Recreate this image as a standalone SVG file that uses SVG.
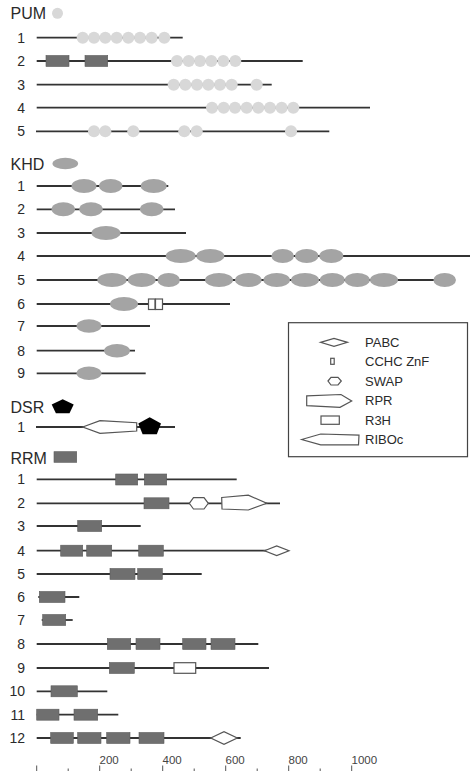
<svg xmlns="http://www.w3.org/2000/svg" width="470" height="771" viewBox="0 0 470 771">
<style>
text{font-family:"Liberation Sans",Arial,sans-serif;fill:#2a2a2a}
.h{font-size:16px}
.n{font-size:14px;text-anchor:end}
.lg{font-size:13px}
.ax{font-size:11.5px;fill:#444}
.bb{stroke:#333;stroke-width:1.8;fill:none}
.pum{fill:#d8d8d8}
.khd{fill:#a4a4a4}
.rrm{fill:#6f6f6f;stroke:#5a5a5a;stroke-width:0.6}
.ol{fill:#fff;stroke:#555;stroke-width:1.2}
.dsr{fill:#000}
.tk{stroke:#555;stroke-width:1}
</style>
<rect width="470" height="771" fill="#fff"/>

<!-- Section headers -->
<g id="hdr-pum"><text class="h" x="10.5" y="19">PUM</text><circle class="pum" cx="57.5" cy="13.3" r="5.5"/></g>
<g id="hdr-khd"><text class="h" x="10.5" y="170">KHD</text><ellipse class="khd" cx="65.3" cy="163.5" rx="12.8" ry="5.8"/></g>
<g id="hdr-dsr"><text class="h" x="10.5" y="412.5">DSR</text><polygon class="dsr" points="62.7,399.3 73.7,404.6 69.5,413.3 55.9,413.3 51.7,404.6"/></g>
<g id="hdr-rrm"><text class="h" x="10.5" y="463.5">RRM</text><rect class="rrm" x="54" y="451.7" width="22.7" height="10.6"/></g>

<!-- Backbones (connectors) -->
<g id="connectors">
<line class="bb" x1="36.7" y1="37.7" x2="182.7" y2="37.7"/>
<line class="bb" x1="36.7" y1="61" x2="302.7" y2="61"/>
<line class="bb" x1="36.7" y1="84.7" x2="271.7" y2="84.7"/>
<line class="bb" x1="36.7" y1="107.7" x2="370" y2="107.7"/>
<line class="bb" x1="36" y1="131.3" x2="329.3" y2="131.3"/>
<line class="bb" x1="36.7" y1="186" x2="168.3" y2="186"/>
<line class="bb" x1="36.7" y1="209.3" x2="175" y2="209.3"/>
<line class="bb" x1="36.7" y1="233" x2="186" y2="233"/>
<line class="bb" x1="36.7" y1="256" x2="470" y2="256"/>
<line class="bb" x1="36.7" y1="280" x2="450" y2="280"/>
<line class="bb" x1="36.7" y1="304" x2="230" y2="304"/>
<line class="bb" x1="36.7" y1="326" x2="150" y2="326"/>
<line class="bb" x1="36.7" y1="350.7" x2="135" y2="350.7"/>
<line class="bb" x1="36.7" y1="373.3" x2="145.7" y2="373.3"/>
<line class="bb" x1="36" y1="427" x2="175" y2="427"/>
<line class="bb" x1="36.7" y1="479.3" x2="236.7" y2="479.3"/>
<line class="bb" x1="36.7" y1="503.3" x2="280" y2="503.3"/>
<line class="bb" x1="36.7" y1="526" x2="140.7" y2="526"/>
<line class="bb" x1="36.7" y1="550.7" x2="286" y2="550.7"/>
<line class="bb" x1="36.7" y1="574" x2="201.7" y2="574"/>
<line class="bb" x1="38.3" y1="597" x2="79.3" y2="597"/>
<line class="bb" x1="41.7" y1="620" x2="72.7" y2="620"/>
<line class="bb" x1="36.7" y1="644" x2="258.3" y2="644"/>
<line class="bb" x1="36.7" y1="668" x2="269" y2="668"/>
<line class="bb" x1="36.7" y1="691.3" x2="107.3" y2="691.3"/>
<line class="bb" x1="36.7" y1="714.7" x2="118.3" y2="714.7"/>
<line class="bb" x1="36.7" y1="738" x2="240.7" y2="738"/>
</g>

<!-- PUM -->
<g id="pum-1"><text class="n" x="25" y="42.7">1</text>
<circle class="pum" cx="82.7" cy="37.7" r="6"/><circle class="pum" cx="94" cy="37.7" r="6"/><circle class="pum" cx="105.3" cy="37.7" r="6"/><circle class="pum" cx="116.7" cy="37.7" r="6"/><circle class="pum" cx="128.3" cy="37.7" r="6"/><circle class="pum" cx="140" cy="37.7" r="6"/><circle class="pum" cx="151.7" cy="37.7" r="6"/><circle class="pum" cx="164.3" cy="37.7" r="6"/></g>
<g id="pum-2"><text class="n" x="25" y="66">2</text>
<rect class="rrm" x="46" y="55.5" width="23" height="11"/><rect class="rrm" x="85" y="55.5" width="22.7" height="11"/>
<circle class="pum" cx="177" cy="61" r="6"/><circle class="pum" cx="188.7" cy="61" r="6"/><circle class="pum" cx="200" cy="61" r="6"/><circle class="pum" cx="211.3" cy="61" r="6"/><circle class="pum" cx="223.3" cy="61" r="6"/><circle class="pum" cx="235.3" cy="61" r="6"/></g>
<g id="pum-3"><text class="n" x="25" y="89.7">3</text>
<circle class="pum" cx="173.7" cy="84.7" r="6"/><circle class="pum" cx="185.3" cy="84.7" r="6"/><circle class="pum" cx="197" cy="84.7" r="6"/><circle class="pum" cx="208.3" cy="84.7" r="6"/><circle class="pum" cx="220" cy="84.7" r="6"/><circle class="pum" cx="231.7" cy="84.7" r="6"/><circle class="pum" cx="256.7" cy="84.7" r="6"/></g>
<g id="pum-4"><text class="n" x="25" y="112.7">4</text>
<circle class="pum" cx="212" cy="107.7" r="6"/><circle class="pum" cx="223.7" cy="107.7" r="6"/><circle class="pum" cx="235" cy="107.7" r="6"/><circle class="pum" cx="246.7" cy="107.7" r="6"/><circle class="pum" cx="258.3" cy="107.7" r="6"/><circle class="pum" cx="270" cy="107.7" r="6"/><circle class="pum" cx="281.7" cy="107.7" r="6"/><circle class="pum" cx="293.3" cy="107.7" r="6"/></g>
<g id="pum-5"><text class="n" x="25" y="136.3">5</text>
<circle class="pum" cx="94" cy="131.3" r="6"/><circle class="pum" cx="105.3" cy="131.3" r="6"/><circle class="pum" cx="133.3" cy="131.3" r="6"/><circle class="pum" cx="184.3" cy="131.3" r="6"/><circle class="pum" cx="196.7" cy="131.3" r="6"/><circle class="pum" cx="291" cy="131.3" r="6"/></g>

<!-- KHD -->
<g id="khd-1"><text class="n" x="25" y="191">1</text>
<ellipse class="khd" cx="84" cy="186" rx="12.5" ry="7"/><ellipse class="khd" cx="110.7" cy="186" rx="11.7" ry="7"/><ellipse class="khd" cx="153.7" cy="186" rx="13" ry="7"/></g>
<g id="khd-2"><text class="n" x="25" y="214.3">2</text>
<ellipse class="khd" cx="63.3" cy="209.3" rx="11.7" ry="7"/><ellipse class="khd" cx="91" cy="209.3" rx="11.7" ry="7"/><ellipse class="khd" cx="151.7" cy="209.3" rx="11.7" ry="7"/></g>
<g id="khd-3"><text class="n" x="25" y="238">3</text>
<ellipse class="khd" cx="106" cy="233" rx="14.5" ry="7"/></g>
<g id="khd-4"><text class="n" x="25" y="261">4</text>
<ellipse class="khd" cx="180.7" cy="256" rx="15" ry="7"/><ellipse class="khd" cx="210.3" cy="256" rx="14" ry="7"/><ellipse class="khd" cx="282.7" cy="256" rx="11.3" ry="7"/><ellipse class="khd" cx="306.7" cy="256" rx="11.7" ry="7"/><ellipse class="khd" cx="331.3" cy="256" rx="12" ry="7"/></g>
<g id="khd-5"><text class="n" x="25" y="285">5</text>
<ellipse class="khd" cx="112" cy="280" rx="14.7" ry="7"/><ellipse class="khd" cx="141.7" cy="280" rx="14" ry="7"/><ellipse class="khd" cx="168.7" cy="280" rx="11.3" ry="7"/><ellipse class="khd" cx="219" cy="280" rx="14" ry="7"/><ellipse class="khd" cx="248.3" cy="280" rx="13.3" ry="7"/><ellipse class="khd" cx="276.7" cy="280" rx="13.3" ry="7"/><ellipse class="khd" cx="305" cy="280" rx="14" ry="7"/><ellipse class="khd" cx="332.3" cy="280" rx="12.5" ry="7"/><ellipse class="khd" cx="357.3" cy="280" rx="12.5" ry="7"/><ellipse class="khd" cx="384" cy="280" rx="14" ry="7"/><ellipse class="khd" cx="444.7" cy="280" rx="11.3" ry="7"/></g>
<g id="khd-6"><text class="n" x="25" y="309">6</text>
<ellipse class="khd" cx="124" cy="304" rx="14" ry="7"/>
<rect class="ol" x="148.5" y="299" width="6.5" height="10.5"/><rect class="ol" x="155.5" y="299" width="7" height="10.5"/></g>
<g id="khd-7"><text class="n" x="25" y="331">7</text>
<ellipse class="khd" cx="89" cy="326" rx="12.5" ry="6.8"/></g>
<g id="khd-8"><text class="n" x="25" y="355.7">8</text>
<ellipse class="khd" cx="117" cy="350.7" rx="13" ry="6.8"/></g>
<g id="khd-9"><text class="n" x="25" y="378.3">9</text>
<ellipse class="khd" cx="89" cy="373.3" rx="12.5" ry="6.8"/></g>

<!-- Legend -->
<g id="legend">
<rect x="288.5" y="322.7" width="179" height="134" fill="#fff" stroke="#444" stroke-width="1.2"/>
<polygon class="ol" points="320.5,342.3 334,338.3 347.5,342.3 334,346.3"/>
<text class="lg" x="365" y="346.5">PABC</text>
<rect class="ol" x="330.7" y="358.3" width="3.5" height="6"/>
<text class="lg" x="365" y="366">CCHC ZnF</text>
<polygon class="ol" points="328,381 331,377.3 338,377.3 341.3,381 338,385 331,385"/>
<text class="lg" x="365" y="385.5">SWAP</text>
<polygon class="ol" points="306.7,395.8 341,394.5 351.7,401 340,407.3 306.7,405.7"/>
<text class="lg" x="365" y="405">RPR</text>
<rect class="ol" x="321" y="416" width="18.3" height="8.3"/>
<text class="lg" x="365" y="424.5">R3H</text>
<polygon class="ol" points="301.7,439.5 320.7,434 359,435.2 358.5,444.8 320.7,444.8"/>
<text class="lg" x="365" y="444">RIBOc</text>
</g>

<!-- DSR -->
<g id="dsr-1"><text class="n" x="25" y="432">1</text>
<polygon class="ol" points="82.7,427 100,420.7 136.7,422.7 136.7,431 100,433.3"/>
<polygon class="dsr" points="149.7,417.3 161,423.5 156.8,434.3 142.6,434.3 138.3,423.5"/></g>

<!-- RRM -->
<g id="rrm-1"><text class="n" x="25" y="484.3">1</text>
<rect class="rrm" x="115.7" y="474" width="22" height="11"/><rect class="rrm" x="144.3" y="474" width="22.4" height="11"/></g>
<g id="rrm-2"><text class="n" x="25" y="508.3">2</text>
<rect class="rrm" x="144" y="497.8" width="25" height="11"/>
<polygon class="ol" points="189.3,503.3 193.5,497.6 204,497.6 208.3,503.3 204,509 193.5,509"/>
<polygon class="ol" points="221.7,497.5 248.3,495.2 266.7,503.3 248.3,510 222,509"/></g>
<g id="rrm-3"><text class="n" x="25" y="531">3</text>
<rect class="rrm" x="77.7" y="520.5" width="24" height="11"/></g>
<g id="rrm-4"><text class="n" x="25" y="555.7">4</text>
<rect class="rrm" x="60.7" y="545.2" width="22" height="11"/><rect class="rrm" x="86.7" y="545.2" width="25" height="11"/><rect class="rrm" x="138.7" y="545.2" width="24.6" height="11"/>
<polygon class="ol" points="264.5,550.7 276.7,546 289,550.7 276.7,555.5"/></g>
<g id="rrm-5"><text class="n" x="25" y="579">5</text>
<rect class="rrm" x="110" y="568.5" width="25" height="11"/><rect class="rrm" x="137.7" y="568.5" width="24.6" height="11"/></g>
<g id="rrm-6"><text class="n" x="25" y="602">6</text>
<rect class="rrm" x="39.3" y="591.5" width="25.7" height="11"/></g>
<g id="rrm-7"><text class="n" x="25" y="625">7</text>
<rect class="rrm" x="42.7" y="614.5" width="23" height="11"/></g>
<g id="rrm-8"><text class="n" x="25" y="649">8</text>
<rect class="rrm" x="107.3" y="638.5" width="23.4" height="11"/><rect class="rrm" x="136" y="638.5" width="24" height="11"/><rect class="rrm" x="182.7" y="638.5" width="23.3" height="11"/><rect class="rrm" x="211" y="638.5" width="24" height="11"/></g>
<g id="rrm-9"><text class="n" x="25" y="673">9</text>
<rect class="rrm" x="109.3" y="662.5" width="25" height="11"/>
<rect class="ol" x="174" y="662.7" width="21.7" height="10.6"/></g>
<g id="rrm-10"><text class="n" x="25" y="696.3">10</text>
<rect class="rrm" x="51" y="685.8" width="26.3" height="11"/></g>
<g id="rrm-11"><text class="n" x="25" y="719.7">11</text>
<rect class="rrm" x="36.7" y="709.2" width="22.3" height="11"/><rect class="rrm" x="74" y="709.2" width="23.7" height="11"/></g>
<g id="rrm-12"><text class="n" x="25" y="743">12</text>
<rect class="rrm" x="50.7" y="732.5" width="22.6" height="11"/><rect class="rrm" x="77.7" y="732.5" width="23.3" height="11"/><rect class="rrm" x="106.7" y="732.5" width="23.3" height="11"/><rect class="rrm" x="139" y="732.5" width="25" height="11"/>
<polygon class="ol" points="210.7,738 224,731.7 237.3,738 224,744.3"/></g>

<!-- Axis -->
<g id="axis">
<line class="tk" x1="36.7" y1="765.5" x2="36.7" y2="771"/>
<line class="tk" x1="68.2" y1="768.5" x2="68.2" y2="771"/>
<line class="tk" x1="99.7" y1="765.5" x2="99.7" y2="771"/>
<line class="tk" x1="131.2" y1="768.5" x2="131.2" y2="771"/>
<line class="tk" x1="162.7" y1="765.5" x2="162.7" y2="771"/>
<line class="tk" x1="194.2" y1="768.5" x2="194.2" y2="771"/>
<line class="tk" x1="225.7" y1="765.5" x2="225.7" y2="771"/>
<line class="tk" x1="257.2" y1="768.5" x2="257.2" y2="771"/>
<line class="tk" x1="288.7" y1="765.5" x2="288.7" y2="771"/>
<line class="tk" x1="320.2" y1="768.5" x2="320.2" y2="771"/>
<line class="tk" x1="351.7" y1="765.5" x2="351.7" y2="771"/>
<text class="ax" x="99.5" y="764">200</text>
<text class="ax" x="162.5" y="764">400</text>
<text class="ax" x="225.5" y="764">600</text>
<text class="ax" x="288.5" y="764">800</text>
<text class="ax" x="351.5" y="764">1000</text>
</g>
</svg>
